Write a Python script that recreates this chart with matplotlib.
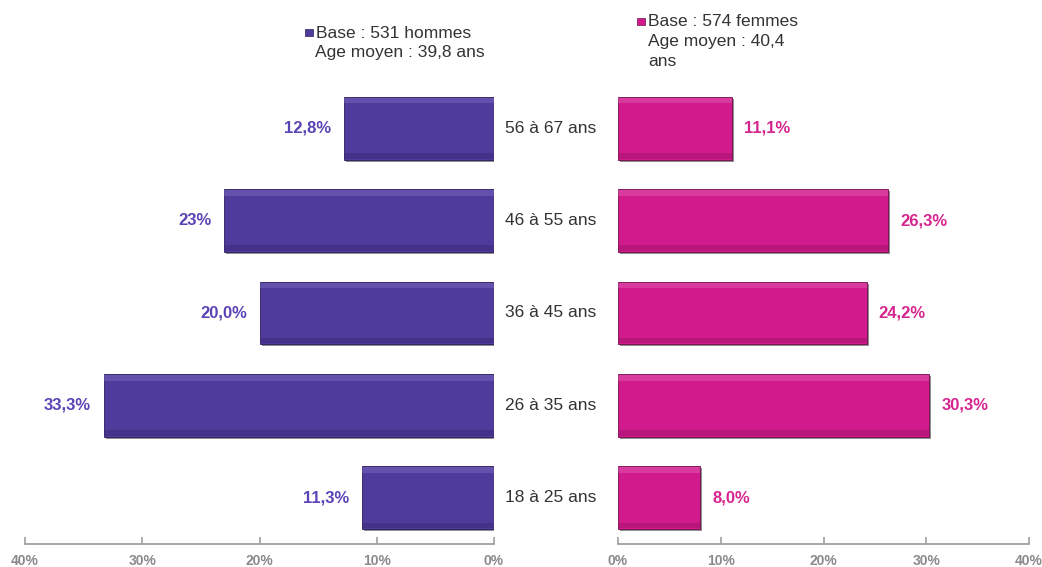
import matplotlib
matplotlib.use("Agg")
import matplotlib.pyplot as plt
import matplotlib.transforms as mtransforms
import matplotlib.patheffects as pe

plt.rcParams['font.family'] = ['Liberation Sans', 'DejaVu Sans']

categories = ["18 à 25 ans", "26 à 35 ans", "36 à 45 ans", "46 à 55 ans", "56 à 67 ans"]
hommes = [11.3, 33.3, 20.0, 23.0, 12.8]
hommes_labels = ["11,3%", "33,3%", "20,0%", "23%", "12,8%"]
femmes = [8.0, 30.3, 24.2, 26.3, 11.1]
femmes_labels = ["8,0%", "30,3%", "24,2%", "26,3%", "11,1%"]
ticks = [0, 10, 20, 30, 40]
tick_labels = ["0%", "10%", "20%", "30%", "40%"]
legend_h = ["Base : 531 hommes", "Age moyen : 39,8 ans"]
legend_f = ["Base : 574 femmes", "Age moyen : 40,4", "ans"]

col_h = "#4f3b9b"
col_h_light = "#7d6cc4"
col_h_dark = "#3a2a7a"
col_h_edge = "#2a1c5e"
col_h_text = "#5a43b5"
col_f = "#d11b8d"
col_f_light = "#e460b2"
col_f_dark = "#a0126b"
col_f_edge = "#6e0d49"
col_f_text = "#d6248f"

W, H = 1042, 567
fig = plt.figure(figsize=(W / 100, H / 100), dpi=100)
bottom = 1 - 544 / H
height = (544 - 82) / H
axL = fig.add_axes([25 / W, bottom, 469 / W, height])
axR = fig.add_axes([618 / W, bottom, 411 / W, height])

y = list(range(len(categories)))
bh = 0.68
hl = 0.06

shadow = [pe.SimplePatchShadow(offset=(1.5, -1.5), shadow_rgbFace="#222222", alpha=0.5), pe.Normal()]

barsL = axL.barh(y, hommes, height=bh, color=col_h, edgecolor=col_h_edge, linewidth=0.6)
barsR = axR.barh(y, femmes, height=bh, color=col_f, edgecolor=col_f_edge, linewidth=0.6)
for b in list(barsL) + list(barsR):
    b.set_path_effects(shadow)
# subtle bevel: light band at top, dark band at bottom
axL.barh([v + bh / 2 - hl / 2 - 0.012 for v in y], hommes, height=hl, color=col_h_light,
         alpha=0.45, linewidth=0)
axR.barh([v + bh / 2 - hl / 2 - 0.012 for v in y], femmes, height=hl, color=col_f_light,
         alpha=0.45, linewidth=0)
axL.barh([v - bh / 2 + hl / 2 + 0.012 for v in y], hommes, height=hl, color=col_h_dark,
         alpha=0.5, linewidth=0)
axR.barh([v - bh / 2 + hl / 2 + 0.012 for v in y], femmes, height=hl, color=col_f_dark,
         alpha=0.5, linewidth=0)

for ax in (axL, axR):
    ax.set_xlim(0, 40)
    ax.set_ylim(-0.5, 4.5)
    ax.set_yticks([])
    for s in ("top", "left", "right"):
        ax.spines[s].set_visible(False)
    ax.spines["bottom"].set_color("#a0a0a0")
    ax.spines["bottom"].set_linewidth(1.3)
    ax.set_xticks(ticks)
    ax.set_xticklabels(tick_labels)
    ax.tick_params(axis="x", direction="in", length=5, color="#a0a0a0", width=1.2,
                   labelsize=10, labelcolor="#8a8a8a", pad=7)
    for t in ax.get_xticklabels():
        t.set_fontweight('bold')
    ax.patch.set_visible(False)
axL.invert_xaxis()

for yi, v, lab in zip(y, hommes, hommes_labels):
    axL.annotate(lab, (v, yi), xytext=(-9, 0), textcoords="offset points",
                 ha="right", va="center", color=col_h_text, fontsize=12, fontweight="bold")
for yi, v, lab in zip(y, femmes, femmes_labels):
    axR.annotate(lab, (v, yi), xytext=(8.5, 0), textcoords="offset points",
                 ha="left", va="center", color=col_f_text, fontsize=12, fontweight="bold")

trans = mtransforms.blended_transform_factory(fig.transFigure, axL.transData)
for yi, c in zip(y, categories):
    axL.text(551 / W, yi, c, transform=trans, ha="center", va="center",
             fontsize=12.5, color="#333333", clip_on=False)

# legends
fig.patches.append(plt.Rectangle((305 / W, 1 - 36 / H), 8 / W, 7 / H, transform=fig.transFigure,
                                 facecolor=col_h, edgecolor=col_h_edge, linewidth=0.5, zorder=5))
for i, line in enumerate(legend_h):
    fig.text((316 if i == 0 else 315) / W, 1 - (33 + 20 * i) / H, line, ha="left", va="center",
             fontsize=12.5, color="#333333")
fig.patches.append(plt.Rectangle((637 / W, 1 - 25 / H), 8 / W, 7 / H, transform=fig.transFigure,
                                 facecolor=col_f, edgecolor=col_f_edge, linewidth=0.5, zorder=5))
for i, line in enumerate(legend_f):
    fig.text(648 / W, 1 - (21 + 20.5 * i) / H, line, ha="left", va="center",
             fontsize=12.5, color="#333333")

fig.savefig("out.png", dpi=100)
